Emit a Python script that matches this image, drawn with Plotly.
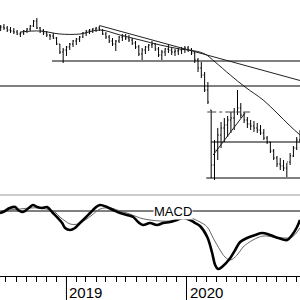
import pandas as pd
import plotly.graph_objects as go
from plotly.subplots import make_subplots

# ---- price bars (10-day bars) ----
bar_start = "2018-06-15"
n_bars = 92
high = [275,276,274,273,272,270,268,270,272,275,280,282,273,271,269,266,267,263,256,252,
        254,257,260,262,264,268,270,271,272,273,274,271,268,265,262,260,264,266,266,265,
        262,259,255,252,254,256,259,257,253,250,252,256,253,251,252,253,254,254,252,248,
        242,238,228,218,190,160,172,178,182,184,188,192,210,197,188,183,180,179,177,175,
        171,164,158,151,144,142,140,137,147,154,163,170]
low = [269,270,268,267,266,265,263,265,267,269,273,271,267,265,263,260,261,255,246,237,
       244,250,253,255,258,262,264,266,267,268,269,265,261,257,254,249,257,259,260,258,
       255,251,244,240,246,249,252,249,243,240,244,247,245,244,245,246,247,248,245,237,
       228,222,208,196,122,120,140,152,158,163,167,170,185,182,177,172,170,168,167,165,
       160,156,147,140,133,130,129,123,135,143,150,157]
open_ = [272,273,272,270,269,268,266,267,269,271,274,279,272,269,267,265,264,262,256,248,
         250,253,256,259,261,263,267,269,270,271,272,270,266,263,259,256,259,263,264,262,
         260,257,253,246,250,253,255,256,251,245,248,251,250,248,249,250,251,252,250,247,
         240,232,225,210,190,135,150,165,172,175,180,182,188,192,185,180,176,174,172,170,
         167,162,158,149,142,136,134,132,138,144,152,160]
close = [273,272,270,269,268,266,267,269,271,274,279,272,269,267,265,264,262,256,248,250,
         253,256,259,261,263,267,269,270,271,272,270,266,263,259,256,259,263,264,262,260,
         257,253,246,250,253,255,256,251,245,248,251,250,248,249,250,251,252,250,247,240,
         232,225,210,198,135,150,165,172,175,180,182,188,192,185,180,176,174,172,170,167,
         162,158,149,142,136,134,132,138,144,152,160,167]

# ---- moving average ----
ma_dates = ["2018-08-13","2018-10-13","2018-12-12","2019-02-11","2019-04-13","2019-06-13",
            "2019-08-13","2019-10-13","2019-12-12","2020-01-27","2020-02-26","2020-03-28",
            "2020-05-13","2020-06-27","2020-08-21","2020-10-02","2020-11-11","2020-12-11"]
ma_vals = [268,269,266,266,270,265,260,255,251,249,246,238,225,213,200,187,174,165]

# ---- MACD ----
macd_dates = ["2018-06-13","2018-06-22","2018-07-13","2018-07-29","2018-08-07","2018-08-19",
              "2018-08-28","2018-09-12","2018-09-21","2018-10-04","2018-10-19","2018-11-03",
              "2018-11-21","2018-12-06","2018-12-19","2018-12-28","2019-01-12","2019-01-27",
              "2019-02-11","2019-02-27","2019-03-14","2019-03-29","2019-04-13","2019-05-04",
              "2019-05-23","2019-06-13","2019-07-04","2019-07-23","2019-08-07","2019-08-22",
              "2019-09-12","2019-10-03","2019-10-22","2019-11-12","2019-12-03","2019-12-22",
              "2020-01-12","2020-01-27","2020-02-11","2020-03-04","2020-03-19","2020-03-28",
              "2020-04-06","2020-04-21","2020-05-13","2020-05-28","2020-06-12","2020-07-03",
              "2020-07-28","2020-08-18","2020-09-11","2020-10-06","2020-11-02","2020-11-17",
              "2020-12-02","2020-12-11"]
macd_vals = [-2,-1,3,4,1,-1,0,4,6,4,3,4,-2,-7,-12,-17,-19,-17,-12,-7,-2,3,6,4,1,-2,-4,-6,
             -11,-14,-12,-14,-12,-11,-9,-7,-9,-12,-15,-26,-42,-54,-58,-55,-47,-39,-31,-27,
             -24,-22,-24,-27,-29,-24,-16,-9]
signal_dates = ["2018-06-13","2018-07-13","2018-08-13","2018-09-12","2018-10-13","2018-11-12",
                "2018-11-27","2018-12-12","2018-12-28","2019-01-12","2019-02-05","2019-02-27",
                "2019-03-20","2019-04-13","2019-05-14","2019-06-13","2019-07-13","2019-08-13",
                "2019-09-12","2019-10-13","2019-11-12","2019-12-12","2020-01-12","2020-02-11",
                "2020-03-04","2020-03-22","2020-04-12","2020-04-27","2020-05-13","2020-06-03",
                "2020-06-21","2020-07-21","2020-08-21","2020-09-20","2020-10-21","2020-11-17",
                "2020-12-11"]
signal_vals = [-2,1,2,3,3,1,-1,-6,-10,-13,-13,-9,-4,2,3,0,-3,-7,-9,-10,-10,-8,-7,-11,-16,
               -27,-39,-46,-49,-44,-36,-29,-25,-26,-27,-26,-17]

# ---- drawn levels / trend lines ----
x_start, x_end = "2018-06-13", "2020-12-11"
level_full = 214
level_mid = 239
level_mid_start = "2018-11-18"
down_trend = (["2019-04-11", "2020-12-11"], [274.5, 219.5])
dashdot_level = (["2020-03-04", "2020-07-12"], 188)
level_low1 = (["2020-03-16", "2020-12-11"], 158)
level_low2 = (["2020-03-01", "2020-12-11"], 122)
up_trend = (["2020-03-22", "2020-06-27"], [145, 187])
year_labels = ["2019", "2020"]
year_dates = ["2019-01-01", "2020-01-01"]

dates = pd.date_range(bar_start, periods=n_bars, freq="10D")

split = (276 - 195) / 276
fig = make_subplots(rows=2, cols=1, shared_xaxes=True, vertical_spacing=0)
fig.update_layout(yaxis=dict(domain=[split, 1]), yaxis2=dict(domain=[0, split]))

fig.add_trace(go.Ohlc(x=dates, open=open_, high=high, low=low, close=close,
                      increasing_line_color="black", decreasing_line_color="black",
                      line_width=1, tickwidth=0.3, showlegend=False), row=1, col=1)
fig.add_trace(go.Scatter(x=ma_dates, y=ma_vals, mode="lines", line=dict(color="#222", width=1, shape="spline"),
                         showlegend=False), row=1, col=1)

def seg(xs, ys, dash="solid", color="black"):
    fig.add_trace(go.Scatter(x=xs, y=ys, mode="lines", line=dict(color=color, width=1, dash=dash),
                             showlegend=False), row=1, col=1)

seg([x_start, x_end], [level_full, level_full])
seg([level_mid_start, x_end], [level_mid, level_mid])
seg(down_trend[0], down_trend[1], color="#222")
seg(dashdot_level[0], [dashdot_level[1]] * 2, dash="dashdot", color="#444")
seg(level_low1[0], [level_low1[1]] * 2)
seg(level_low2[0], [level_low2[1]] * 2)
seg(up_trend[0], up_trend[1], color="#222")

fig.add_trace(go.Scatter(x=[x_start, x_end], y=[0, 0], mode="lines", line=dict(color="black", width=1),
                         showlegend=False), row=2, col=1)
fig.add_trace(go.Scatter(x=signal_dates, y=signal_vals, mode="lines",
                         line=dict(color="#666", width=1, shape="spline"), showlegend=False), row=2, col=1)
fig.add_trace(go.Scatter(x=macd_dates, y=macd_vals, mode="lines",
                         line=dict(color="black", width=2.6, shape="spline"), showlegend=False), row=2, col=1)

fig.add_annotation(x="2019-11-21", y=0, xref="x2", yref="y2", text="MACD", showarrow=False,
                   font=dict(family="Liberation Sans, Arial", size=13, color="black"),
                   bgcolor="white", borderpad=0, xanchor="center", yanchor="middle")

for lab, d in zip(year_labels, year_dates):
    fig.add_shape(type="line", xref="x2", yref="paper", x0=d, x1=d, y0=0, y1=-24 / 276,
                  line=dict(color="black", width=1))
    fig.add_annotation(x=d, y=-16 / 276, xref="x2", yref="paper", text=lab, showarrow=False,
                       font=dict(family="Liberation Sans, Arial", size=15, color="black"),
                       xanchor="left", yanchor="middle", xshift=1)

# separator between panels
fig.add_shape(type="line", xref="paper", yref="paper", x0=0, x1=1, y0=split, y1=split,
              line=dict(color="#999", width=1))

fig.update_xaxes(range=[x_start, x_end], showgrid=False, zeroline=False, rangeslider_visible=False)
fig.update_xaxes(showticklabels=False, ticks="", showline=False, row=1, col=1)
fig.update_xaxes(showline=True, linecolor="black", linewidth=1, ticks="outside", ticklen=5,
                 tickcolor="black", tickwidth=1, dtick="M1", tick0="2018-01-01",
                 showticklabels=False, row=2, col=1)
fig.update_yaxes(visible=False, showgrid=False, zeroline=False)
fig.update_yaxes(range=[105, 300], row=1, col=1)
fig.update_yaxes(range=[-65, 16], row=2, col=1)

fig.update_layout(width=300, height=300, margin=dict(l=0, r=0, t=0, b=24, pad=0),
                  paper_bgcolor="white", plot_bgcolor="white", showlegend=False)
fig.write_html("out.html")
